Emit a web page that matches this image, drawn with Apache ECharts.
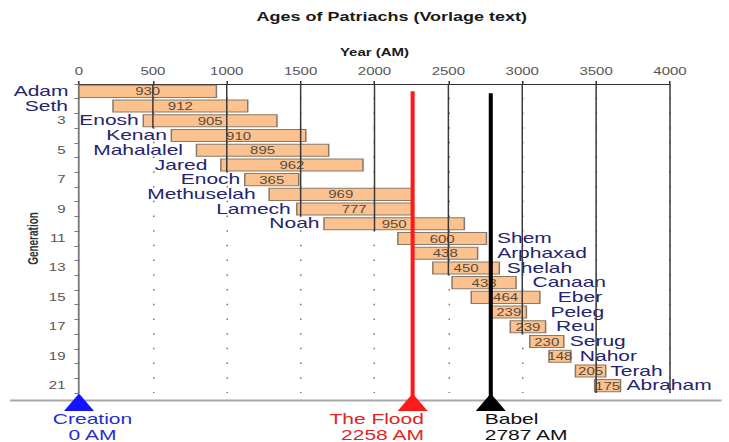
<!DOCTYPE html>
<html>
<head>
<meta charset="utf-8">
<script src="https://cdn.jsdelivr.net/npm/echarts@6/dist/echarts.min.js"></script>
<style>
html,body{margin:0;padding:0;background:#fff;overflow:hidden;}
#wrap{width:729px;height:442px;overflow:hidden;position:relative;}
#chart{width:486px;height:442px;transform:scaleX(1.5);transform-origin:0 0;}
</style>
</head>
<body>
<div id="wrap"><div id="chart"></div></div>
<script>
// ---------------- data ----------------
const generations = ['1','2','3','4','5','6','7','8','9','10','11','12','13','14','15','16','17','18','19','20','21'];
const names = ['Adam','Seth','Enosh','Kenan','Mahalalel','Jared','Enoch','Methuselah','Lamech','Noah',
               'Shem','Arphaxad','Shelah','Canaan','Eber','Peleg','Reu','Serug','Nahor','Terah','Abraham'];
const birthYears = [0,230,435,625,795,960,1122,1287,1474,1658,2158,2260,2395,2525,2655,2789,2919,3051,3181,3360,3490];
const ages = [930,912,905,910,895,962,365,969,777,950,600,438,450,433,464,239,239,230,148,205,175];
const yearTicks = [0,500,1000,1500,2000,2500,3000,3500,4000];
const eventYears = [0,2258,2787];
const eventTitles = ['Creation','The Flood','Babel'];
const eventSubtitles = ['0 AM','2258 AM','2787 AM'];

// ---------------- style ----------------
const FONT = 'Liberation Sans, Arial, sans-serif';
const leftNamedCount = 10;                     // first 10 names sit left of their bars
const nameGaps = [7,30,3,3,9,9,3,9,4,3, 7,13,5,11,12,16,7,4,6,3,4];
const eventColors = ['#1414ff','#ff1a1a','#000000'];
const eventTextColors = ['#1f2fd6','#e52222','#111111'];
const eventHasLine = [false,true,true];
const eventLineTopShift = [0,0,2];
const eventTextAlign = ['center','right','left'];
const eventTextDx = [9,7.5,-4];

const chart = echarts.init(document.getElementById('chart'), null, {renderer:'svg'});

const barData = birthYears.map((b, i) => [b, b + ages[i], i, ages[i]]);
const gridSolid = yearTicks.slice(1).map(t => [t, birthYears.filter(b => b < t).length - 1]);
const eventData = eventYears.map((y, i) => [y, 0, i]);

const gridTop = 84, gridBottomPx = 393;
const band = (gridBottomPx - gridTop) / generations.length;

const option = {
  animation: false,
  backgroundColor: '#ffffff',
  textStyle: {fontFamily: FONT},
  title: {
    text: 'Ages of Patriachs (Vorlage text)',
    left: 171, top: 11, padding: 0,
    textStyle: {fontFamily: FONT, fontSize: 12, fontWeight: 'bold', color: '#1a1a1a'}
  },
  grid: {left: 52.67, right: 39.33, top: gridTop, bottom: 442 - gridBottomPx},
  xAxis: {
    type: 'value', position: 'top', min: 0, max: 4000, interval: 500,
    name: 'Year (AM)', nameLocation: 'middle', nameGap: 27,
    nameTextStyle: {fontFamily: FONT, fontSize: 10, fontWeight: 'bold', color: '#1a1a1a'},
    axisLine: {show: true, lineStyle: {color: '#333', width: 1}},
    axisTick: {show: true, length: 3, lineStyle: {color: '#333'}},
    axisLabel: {fontFamily: FONT, fontSize: 10, color: '#555', margin: 8,
                formatter: function (v) { return String(v); }},
    splitLine: {show: true, lineStyle: {color: '#777', width: 1, type: [1.5, band - 1.5], dashOffset: 0.75}}
  },
  yAxis: {
    type: 'category', data: generations, inverse: true,
    name: 'Generation', nameLocation: 'middle', nameGap: 26, nameRotate: 90, nameMoveOverlap: false,
    nameTextStyle: {fontFamily: FONT, fontSize: 10, fontWeight: 'bold', color: '#333'},
    axisLine: {show: true, lineStyle: {color: '#777', width: 1.2}},
    axisTick: {show: true, interval: 0, length: 3, lineStyle: {color: '#777'}},
    axisLabel: {interval: 1, fontFamily: FONT, fontSize: 10, color: '#555', margin: 9,
                formatter: function (v, idx) { return idx === 0 ? '' : v; }},
    splitLine: {show: false}
  },
  graphic: [{
    type: 'line', z: 1, silent: true,
    shape: {x1: 6.7, y1: 400.5, x2: 481, y2: 400.5},
    style: {stroke: '#a8a8a8', lineWidth: 2}
  }],
  series: [
    {
      type: 'custom', name: 'Lifespan', z: 2, clip: false,
      data: barData, encode: {x: [0, 1], y: 2},
      renderItem: function (params, api) {
        const i = params.dataIndex;
        const s = api.coord([api.value(0), api.value(2)]);
        const e = api.coord([api.value(1), api.value(2)]);
        const h = api.size([0, 1])[1] * 0.82;
        const left = i < leftNamedCount;
        return {
          type: 'group',
          children: [
            {type: 'rect', shape: {x: s[0], y: s[1] - h / 2, width: e[0] - s[0], height: h},
             style: {fill: '#fbc28f', stroke: '#8a7866', lineWidth: 1}},
            {type: 'text', x: (s[0] + e[0]) / 2, y: s[1] + 0.5,
             style: {text: String(api.value(3)), fontFamily: FONT, fontSize: 10, fill: '#5a4a3a',
                     align: 'center', verticalAlign: 'middle'}},
            {type: 'text', x: left ? s[0] - nameGaps[i] : e[0] + nameGaps[i], y: s[1],
             style: {text: names[i], fontFamily: FONT, fontSize: 14, fill: '#24246f',
                     align: left ? 'right' : 'left', verticalAlign: 'middle'}}
          ]
        };
      }
    },
    {
      type: 'custom', name: 'Grid', z: 3, silent: true, clip: false,
      data: gridSolid, encode: {x: 0, y: 1},
      renderItem: function (params, api) {
        const top = api.coord([api.value(0), 0]);
        const bot = api.coord([api.value(0), api.value(1)]);
        const b = api.size([0, 1])[1];
        return {type: 'line', shape: {x1: top[0], y1: top[1] - b / 2, x2: top[0], y2: bot[1] + b / 2},
                style: {stroke: '#3a3a3a', lineWidth: 1}};
      }
    },
    {
      type: 'custom', name: 'Events', z: 4, silent: true, clip: false,
      data: eventData, encode: {x: 0, y: 1},
      renderItem: function (params, api) {
        const i = api.value(2);
        const p = api.coord([api.value(0), 0]);
        const cs = params.coordSys;
        const bottom = cs.y + cs.height;
        const x = p[0];
        const children = [];
        if (eventHasLine[i]) {
          children.push({type: 'line', shape: {x1: x, y1: p[1] + eventLineTopShift[i], x2: x, y2: bottom + 8},
                         style: {stroke: eventColors[i], lineWidth: 2.7}});
        }
        children.push({type: 'polygon', shape: {points: [[x, bottom + 0.5], [x - 10, bottom + 18], [x + 10, bottom + 18]]},
                       style: {fill: eventColors[i]}});
        const tx = x + eventTextDx[i];
        children.push({type: 'text', x: tx, y: bottom + 26.5,
                       style: {text: eventTitles[i], fontFamily: FONT, fontSize: 14, fill: eventTextColors[i],
                               align: eventTextAlign[i], verticalAlign: 'middle'}});
        children.push({type: 'text', x: tx, y: bottom + 42,
                       style: {text: eventSubtitles[i], fontFamily: FONT, fontSize: 14, fill: eventTextColors[i],
                               align: eventTextAlign[i], verticalAlign: 'middle'}});
        return {type: 'group', children: children};
      }
    }
  ]
};
chart.setOption(option);
</script>
</body>
</html>
